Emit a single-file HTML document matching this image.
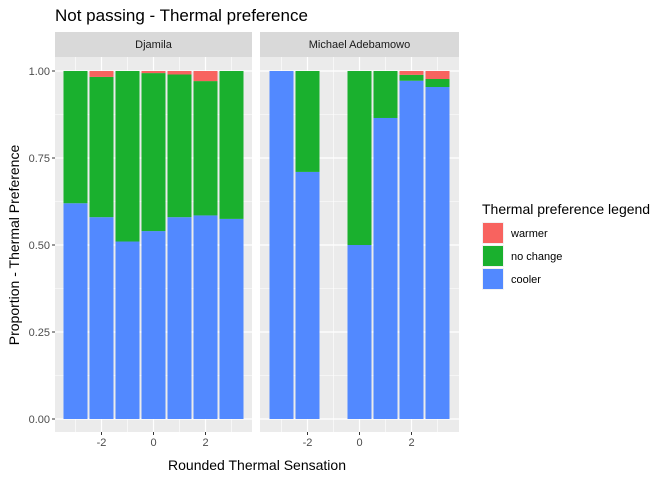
<!DOCTYPE html>
<html><head><meta charset="utf-8"><style>
body{margin:0;background:#fff;font-family:"Liberation Sans",Arial,sans-serif}
svg text{font-family:"Liberation Sans",Arial,sans-serif}
</style></head><body>
<svg id="c" width="672" height="480" xmlns="http://www.w3.org/2000/svg"></svg>
<script>
const xs=[-3,-2,-1,0,1,2,3];
const leftCooler=[0.62,0.58,0.51,0.54,0.58,0.585,0.575];
const leftNoChange=[0.38,0.403,0.49,0.454,0.41,0.386,0.425];
const leftWarmer=[0,0.017,0,0.006,0.01,0.029,0];
const rightCooler=[1,0.71,0,0.5,0.865,0.972,0.954];
const rightNoChange=[0,0.29,0,0.5,0.135,0.017,0.023];
const rightWarmer=[0,0,0,0,0,0.011,0.023];
const yTicks=[0,0.25,0.5,0.75,1];
const yTickLabels=["0.00","0.25","0.50","0.75","1.00"];
const xTicks=[-2,0,2];
const panels=[{name:"Djamila",x0:55,x1:252,c:leftCooler,n:leftNoChange,w:leftWarmer},
{name:"Michael Adebamowo",x0:260,x1:459,c:rightCooler,n:rightNoChange,w:rightWarmer}];
const svg=document.getElementById('c');const NS="http://www.w3.org/2000/svg";
function el(t,a,p){const e=document.createElementNS(NS,t);for(const k in a)e.setAttribute(k,a[k]);(p||svg).appendChild(e);return e;}
const plotTop=57,plotBot=432;
const Y=v=>419-v*348;
const colors={c:"#5289FF",n:"#1AB02E",w:"#F8635F"};
el('text',{x:55,y:21,'font-size':17,fill:'#000'}).textContent="Not passing - Thermal preference";
panels.forEach((p,pi)=>{
 const cx=(p.x0+p.x1)/2;const X=v=>cx+v*26;
 const g=el('g',{});
 el('rect',{x:p.x0,y:plotTop,width:p.x1-p.x0,height:plotBot-plotTop,fill:'#EBEBEB'},g);
 el('rect',{x:p.x0,y:32,width:p.x1-p.x0,height:25,fill:'#D9D9D9'},g);
 const st=el('text',{x:cx,y:48,'font-size':11,'text-anchor':'middle',fill:'#1a1a1a'},g);st.textContent=p.name;
 
 for(let i=0;i<yTicks.length-1;i++){const m=(yTicks[i]+yTicks[i+1])/2;el('line',{x1:p.x0,x2:p.x1,y1:Y(m),y2:Y(m),stroke:'#fff','stroke-width':0.6},g);}
 [-3,-1,1,3].forEach(v=>el('line',{x1:X(v),x2:X(v),y1:plotTop,y2:plotBot,stroke:'#fff','stroke-width':0.6},g));
 yTicks.forEach(v=>el('line',{x1:p.x0,x2:p.x1,y1:Y(v),y2:Y(v),stroke:'#fff','stroke-width':1.2},g));
 xTicks.forEach(v=>{el('line',{x1:X(v),x2:X(v),y1:plotTop,y2:plotBot,stroke:'#fff','stroke-width':1.2},g);
  el('line',{x1:X(v),x2:X(v),y1:plotBot,y2:plotBot+3,stroke:'#333'},g);
  const t=el('text',{x:X(v),y:plotBot+14,'font-size':11,'text-anchor':'middle',fill:'#4d4d4d'},g);t.textContent=(v<0?'-':'')+Math.abs(v);});
 xs.forEach((x,i)=>{let b=0;[['c',p.c[i]],['n',p.n[i]],['w',p.w[i]]].forEach(([k,v])=>{if(v<=0)return;
  const r=el('rect',{x:X(x)-12,y:Y(b+v),width:24,height:Y(b)-Y(b+v),fill:colors[k]},g);
  b+=v;});});
});
yTicks.forEach((v,i)=>{el('line',{x1:52,x2:55,y1:Y(v),y2:Y(v),stroke:'#333'});
 el('text',{x:50,y:Y(v)+4,'font-size':11,'text-anchor':'end',fill:'#4d4d4d'}).textContent=yTickLabels[i];});
const xt=el('text',{x:257,y:470,'font-size':14,'text-anchor':'middle',fill:'#000'});xt.textContent="Rounded Thermal Sensation";

const yt=el('text',{x:19,y:245,'font-size':14,'text-anchor':'middle',fill:'#000',transform:'rotate(-90 19 245)'});yt.textContent="Proportion - Thermal Preference";

const lg=el('g',{});
el('text',{x:482,y:214,'font-size':14,fill:'#000'},lg).textContent="Thermal preference legend";
[['w','warmer'],['n','no change'],['c','cooler']].forEach(([k,l],i)=>{const y=222+i*23;
 el('rect',{x:482,y:y,width:22,height:22,fill:'#F2F2F2'},lg);
 el('rect',{x:483,y:y+1,width:20,height:20,fill:colors[k]},lg);
 el('text',{x:511,y:y+15,'font-size':11,fill:'#000'},lg).textContent=l;});
</script></body></html>
